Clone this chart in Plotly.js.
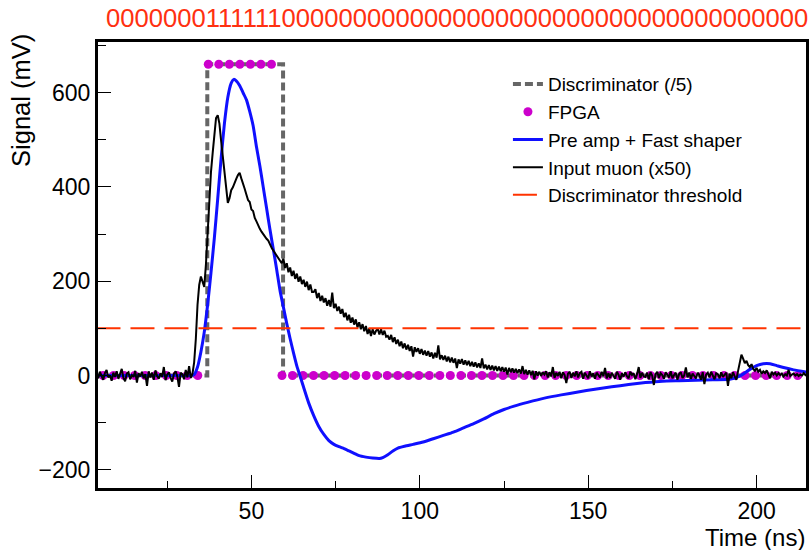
<!DOCTYPE html>
<html>
<head>
<meta charset="utf-8">
<script src="https://cdn.plot.ly/plotly-3.0.1.min.js"></script>
<style>
  html, body { margin: 0; padding: 0; background: #ffffff; }
  #chart { width: 809px; height: 550px; }
</style>
</head>
<body>
<div id="chart"></div>
<script>
// ---------- data ----------
// Discriminator output divided by 5 (mV)
const discTime = [4, 36.9, 36.9, 59.4, 59.4, 215];
const discSignal = [0, 0, 660, 660, 0, 0];

// FPGA samples: first sample time and sampling period (ns), values (mV)
const fpgaStart = 5.95;
const fpgaStep = 3.125;
const fpgaSignal = [
  0,0,0,0,0,0,0,0,0,0,
  660,660,660,660,660,660,660,
  0,0,0,0,0,0,0,0,0,0,
  0,0,0,0,0,0,0,0,0,0,
  0,0,0,0,0,0,0,0,0,0,
  0,0,0,0,0,0,0,0,0,0,
  0,0,0,0,0,0,0,0,0,0
];

// Pre amp + fast shaper output (mV)
const shaperTime = [4, 15, 28, 32, 33, 34, 35, 36, 37, 38, 39, 40, 41, 42, 43, 44, 44.8, 45.5, 46.5, 47.5,
  48.5, 49.5, 50.5, 51.5, 52.5, 53.5, 54.5, 55.5, 56.5, 57.5, 58.5, 59.5, 60.5, 61.5, 62.5, 63.5, 64.5, 65.5,
  67, 68.5, 70, 71.5, 73, 74.5, 76, 77.5, 79, 80.5, 82, 84, 86, 88, 89, 90.5, 92, 93.5, 95.5, 98, 101, 104,
  107, 110, 113, 116, 119, 122, 125, 128, 132, 137, 142, 147, 152, 157, 162, 167, 172, 177, 182, 187, 192,
  194, 196, 198, 200, 202, 204, 206, 208, 211, 215];
const shaperSignal = [0, 0, 0, 0, 2, 18, 50, 92, 150, 218, 292, 375, 460, 535, 590, 620, 628, 625, 615, 600,
  585, 560, 530, 485, 445, 400, 355, 310, 268, 225, 180, 145, 110, 78, 48, 20, -2, -25,
  -58, -85, -108, -125, -138, -146, -151, -155, -160, -165, -170, -173, -175, -176, -174, -168, -160, -154, -150, -146, -141, -134,
  -127, -120, -111, -102, -92, -81, -72, -65, -57, -48, -41, -35, -29, -24, -19, -15, -12, -11, -10, -9, -8,
  -4, 3, 13, 21, 25, 25, 21, 17, 12, 7];

// Input muon signal x50 (mV), sampled every 0.5 ns from 4 ns
const muonStart = 4;
const muonStep = 0.5;
const muonSignal = [
  3,-6,8,-2,-9,5,12,-4,0,-11, 6,-3,9,-7,2,14,-5,-12,4,7,
  -8,1,-3,10,-15,5,-2,8,-6,3, -22,9,-4,6,-9,11,-1,-7,5,-3,
  18,-10,2,7,-5,-13,4,9,-2,-24, 6,3,-8,12,-4,20,
  -5,4,28,78,150,192,210,196,188,236,
  310,382,432,472,515,546,552,534,498,462,
  424,388,366,376,393,399,410,417,425,430,
  418,404,396,384,372,368,352,349,334,327,
  318,311,305,299,295,290,286,277,271,265,
  259,253,249,243,238,248,228,238,219,229,
  211,222,205,216,199,210,194,203,188,199,
  181,193,177,177,183,164,175,158,169,155,
  164,148,160,146,176,143,152,137,146,131,
  141,124,133,117,129,112,123,108,119,102,
  113,98,109,94,105,88,100,84,98,87,
  95,99,87,98,86,95,82,84,76,86,
  71,81,67,76,62,72,58,68,55,65,
  52,62,40,60,50,58,46,56,44,53,
  42,52,40,49,36,48,38,64,34,43,
  33,42,30,40,28,38,27,36,16,34,
  25,35,23,32,22,31,20,29,19,28,
  17,26,16,36,15,23,13,22,12,21,
  11,20,10,19,9,18,8,17,2,16,
  7,15,6,14,5,13,4,20,3,12,
  2,11,1,10,-8,9,0,8,-1,7,
  2,9,-4,7,-2,18,-5,6,-1,8,
  -6,7,1,-16,4,8,-5,6,-2,9,
  -4,5,8,-7,6,0,-6,9,-2,5,
  -7,6,2,-4,8,-1,16,-6,5,-5,
  6,-2,-7,8,2,-9,5,-3,7,-1,
  -6,8,1,5,-8,3,18,-5,6,-2,
  -3,6,-8,7,0,-20,3,8,-5,5,
  1,-7,7,2,-4,9,-6,1,6,-9,
  3,7,-5,0,17,-4,6,-7,4,-1,
  -6,6,1,-9,7,-18,2,6,-4,8,
  -1,-8,5,3,-6,7,-3,1,6,-22,
  4,-6,7,-2,-9,10,30,44,36,26,
  31,22,18,24,14,10,16,8,12,4,
  9,5,11,3,-6,8,2,6,0,5,
  1,4,-2,3,0,12,-1,2,4,0,
  3,-1,2,0,5,1,4
];

// Discriminator threshold (mV)
const thresholdTime = [4, 215];
const thresholdSignal = [100, 100];

// Bit pattern shown above the frame
const bitPattern = "0000000" + "111111" + "0000000000000000000000000000000000000";

// Axis tick values
const xTicks = [50, 100, 150, 200];
const yTicks = [-200, 0, 200, 400, 600];

// ---------- chart ----------
const FONT = '"Liberation Sans", Arial, Helvetica, sans-serif';

const traces = [
  { name: 'Discriminator (/5)', x: discTime, y: discSignal, type: 'scatter', mode: 'lines',
    line: { color: '#666666', width: 4, dash: '8px,4px' } },
  { name: 'FPGA', x0: fpgaStart, dx: fpgaStep, y: fpgaSignal, type: 'scatter', mode: 'markers',
    marker: { color: '#cc00cc', size: 9 } },
  { name: 'Pre amp + Fast shaper', x: shaperTime, y: shaperSignal, type: 'scatter', mode: 'lines',
    line: { color: '#1010ff', width: 3, shape: 'spline', smoothing: 0.6 } },
  { name: 'Input muon (x50)', x0: muonStart, dx: muonStep, y: muonSignal, type: 'scatter', mode: 'lines',
    line: { color: '#000000', width: 2 } },
  { name: 'Discriminator threshold', x: thresholdTime, y: thresholdSignal, type: 'scatter', mode: 'lines',
    line: { color: '#ff3300', width: 2, dash: '24px,10px' } }
];

const layout = {
  width: 809, height: 550,
  margin: { l: 98, r: 3, t: 42, b: 62, pad: 0 },
  paper_bgcolor: '#ffffff', plot_bgcolor: '#ffffff',
  font: { family: FONT, color: '#000000', size: 22 },
  showlegend: true,
  legend: {
    x: 0.579, xanchor: 'left', y: 0.948, yanchor: 'top',
    bgcolor: 'rgba(0,0,0,0)', borderwidth: 0,
    font: { family: FONT, size: 19, color: '#000000' },
    tracegroupgap: 0
  },
  xaxis: {
    range: [4.45, 214.67], tickvals: xTicks, ticktext: xTicks.map(String),
    showgrid: false, zeroline: false,
    showline: true, linecolor: '#000000', linewidth: 3, mirror: true,
    ticks: 'inside', ticklen: 13, tickwidth: 1, tickcolor: '#000000',
    minor: { dtick: 25, tick0: 0, ticks: 'inside', ticklen: 7, tickwidth: 1, tickcolor: '#000000', showgrid: false },
    tickfont: { family: FONT, size: 23, color: '#000000' }
  },
  yaxis: {
    range: [-238.5, 707.2], tickvals: yTicks,
    showgrid: false, zeroline: false,
    showline: true, linecolor: '#000000', linewidth: 3, mirror: true,
    ticks: 'inside', ticklen: 13, tickwidth: 1, tickcolor: '#000000',
    minor: { dtick: 100, tick0: 0, ticks: 'inside', ticklen: 8, tickwidth: 1, tickcolor: '#000000', showgrid: false },
    tickfont: { family: FONT, size: 23, color: '#000000' }
  },
  annotations: [
    { text: 'Signal (mV)', xref: 'paper', yref: 'paper', x: -0.1088, y: 0.87,
      xanchor: 'center', yanchor: 'middle', textangle: -90, showarrow: false,
      font: { family: FONT, size: 25.5, color: '#000000' } },
    { text: 'Time (ns)', xref: 'paper', yref: 'paper', x: 1.0014, y: -0.112,
      xanchor: 'right', yanchor: 'middle', showarrow: false,
      font: { family: FONT, size: 24, color: '#000000' } },
    { text: bitPattern, xref: 'paper', yref: 'paper', x: 0.0085, y: 1.0538,
      xanchor: 'left', yanchor: 'middle', showarrow: false,
      font: { family: FONT, size: 25.6, color: '#ff3010' } }
  ]
};

Plotly.newPlot('chart', traces, layout, { displayModeBar: false, staticPlot: true });
</script>
</body>
</html>
